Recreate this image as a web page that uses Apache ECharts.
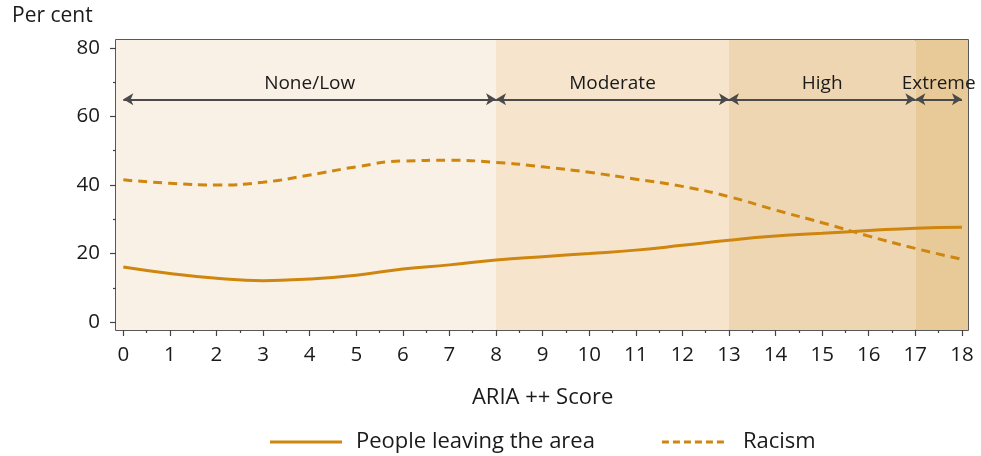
<!DOCTYPE html>
<html><head><meta charset="utf-8">
<script src="https://cdn.jsdelivr.net/npm/echarts@6/dist/echarts.min.js"></script>
<style>html,body{margin:0;padding:0;background:#fff}#c{width:981px;height:456px}</style>
</head><body><div id="c"></div>
<script>
var scores = [0,1,2,3,4,5,6,7,8,9,10,11,12,13,14,15,16,17,18];
var peopleLeaving = [16.1,14.2,12.8,12.1,12.6,13.7,15.5,16.7,18.1,19.1,20.0,21.0,22.4,23.9,25.1,25.9,26.7,27.4,27.7];
var racism = [41.5,40.5,40.0,40.8,42.9,45.3,47.0,47.2,46.6,45.3,43.7,41.7,39.6,36.6,32.7,29.0,25.1,21.5,18.3];
var bandNames = ['None/Low','Moderate','High','Extreme'];
var bandEdges = [-0.157, 8, 13, 17, 18.13];
var arrowEdges = [0, 8, 13, 17, 18];
var bandColors = ['#FAF1E6','#F6E5CC','#EED6B2','#E8CA98'];
var arrowLevel = 65;

var font = 'Open Sans';
var txt = '#1a1a1a';
var lineColor = '#CF860E';
var tickColor = '#444';

var chart = echarts.init(document.getElementById('c'));
var areas = [], arrows = [];
for (var i = 0; i < bandNames.length; i++) {
  areas.push([{xAxis: bandEdges[i], itemStyle:{color: bandColors[i]}}, {xAxis: bandEdges[i+1]}]);
  arrows.push([{coord:[arrowEdges[i], arrowLevel], name: bandNames[i]}, {coord:[arrowEdges[i+1], arrowLevel]}]);
}
var dashIcon = 'path://M0,0h7v3h-7z M11,0h7v3h-7z M22,0h7v3h-7z M33,0h7v3h-7z M44,0h7v3h-7z M55,0h7v3h-7z';
var option = {
  animation: false,
  textStyle: {fontFamily: font},
  grid: [
    {left:116, right:13, top:40, bottom:126, show:true, borderColor:'#222', borderWidth:1.5, backgroundColor:'transparent'},
    {left:123.3, right:19.1, top:40, bottom:126},
    {left:116, right:13, top:47.9, bottom:133.9}
  ],
  graphic: [{type:'text', left:12, top:6, style:{text:'Per cent', font:'21px "' + font + '"', fill: txt}}],
  legend: {
    left: 265, top: 426, itemWidth: 72, itemHeight: 3, itemGap: 67,
    textStyle: {fontSize: 22, color: txt, fontFamily: font, padding:[0,0,0,9]},
    data: [{name:'People leaving the area', icon:'rect'}, {name:'Racism', icon: dashIcon}]
  },
  xAxis: [{
    gridIndex:0, type:'value', min:-0.157, max:18.13, show:false
  },{
    gridIndex:1, type:'value', min:0, max:18, interval:1, position:'bottom',
    name:'ARIA ++ Score', nameLocation:'middle', nameGap:57,
    nameTextStyle:{fontSize:22, color:txt, fontFamily:font},
    axisLine:{show:false},
    axisTick:{show:true, length:6, lineStyle:{color:tickColor, width:1.2}},
    minorTick:{show:true, splitNumber:2, length:3, lineStyle:{color:tickColor, width:1.2}},
    axisLabel:{fontSize:20.5, color:txt, margin:15, fontFamily:font},
    splitLine:{show:false}, minorSplitLine:{show:false}
  },{
    gridIndex:2, type:'value', min:0, max:1, show:false
  }],
  yAxis: [{
    gridIndex:0, type:'value', min:-2.3, max:82.3, show:false
  },{
    gridIndex:1, type:'value', min:0, max:1, show:false
  },{
    gridIndex:2, type:'value', min:0, max:80, interval:20, position:'left',
    axisLine:{show:false},
    axisTick:{show:true, length:6, lineStyle:{color:tickColor, width:1.2}},
    minorTick:{show:true, splitNumber:2, length:3, lineStyle:{color:tickColor, width:1.2}},
    axisLabel:{fontSize:20.5, color:txt, margin:16, fontFamily:font},
    splitLine:{show:false}, minorSplitLine:{show:false}
  }],
  series: [
    {type:'line', name:'_bands', xAxisIndex:0, yAxisIndex:0, data:[], z:1, silent:true,
     markArea:{silent:true, data: areas},
     markLine:{silent:true, symbol:['arrow','arrow'], symbolSize:[9,10],
       lineStyle:{color:'#4a4a4a', width:2, type:'solid'},
       label:{show:true, position:'middle', formatter:'{b}', fontSize:19, color:txt, fontFamily:font, distance:6},
       data: arrows}
    },
    {type:'line', name:'People leaving the area', xAxisIndex:0, yAxisIndex:0, z:3, smooth:true, symbol:'none',
     data: scores.map(function(s,i){return [s, peopleLeaving[i]];}),
     lineStyle:{color:lineColor, width:3}, itemStyle:{color:lineColor}},
    {type:'line', name:'Racism', xAxisIndex:0, yAxisIndex:0, z:3, smooth:true, symbol:'none',
     data: scores.map(function(s,i){return [s, racism[i]];}),
     lineStyle:{color:lineColor, width:3, type:[9,6]}, itemStyle:{color:lineColor}}
  ]
};
chart.setOption(option);
</script></body></html>
